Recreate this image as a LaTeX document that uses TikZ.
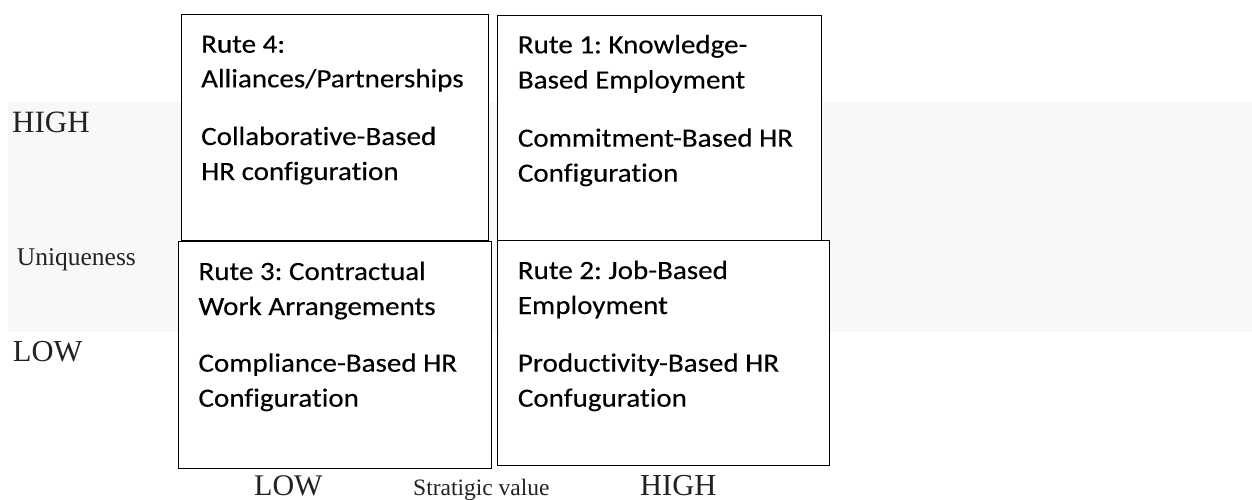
\documentclass[tikz,border=0pt]{standalone}
\usepackage{fontspec}
\newfontfamily\boxfont[FakeStretch=1.1,FakeBold=0.25,Ligatures={NoCommon}]{Carlito}
\newfontfamily\axisfont{Liberation Serif}
\definecolor{band}{HTML}{F7F8FA}
\definecolor{axisgray}{HTML}{222222}
\frenchspacing
\begin{document}
\begin{tikzpicture}[x=1pt,y=-1pt,
  quad/.style={draw=black,line width=0.9pt,fill=white,inner sep=0pt,anchor=north west},
  line/.style={anchor=base west,inner sep=0pt,font=\boxfont\fontsize{26.4}{32}\selectfont},
  axis/.style={anchor=base west,inner sep=0pt,text=axisgray}]
\useasboundingbox (0,0) rectangle (1252,500);

% light horizontal band behind the upper half
\fill[band] (8,102) rectangle (1252,332);

% upper row of quadrants
\node[quad,minimum width=307.3pt,minimum height=226pt] (q4) at (180.7,14) {};
\node[quad,minimum width=323.7pt,minimum height=224.5pt] (q1) at (497.3,15.5) {};
% lower row of quadrants (drawn over the upper row)
\node[quad,minimum width=312.4pt,minimum height=226.7pt] (q3) at (178.3,241) {};
\node[quad,minimum width=332.3pt,minimum height=225pt] (q2) at (496.7,240) {};

% Rute 4
\node[line] (q4a) at (201,52.7)  {Rute 4:};
\node[line] (q4b) at (201,87.3)  {Alliances/Partnerships};
\node[line] (q4c) at (201,145)   {Collaborative-Based};
\node[line] (q4d) at (201,180)   {HR configuration};
% Rute 1
\node[line] (q1a) at (517.7,53.3)  {Rute 1: Knowledge-};
\node[line] (q1b) at (517.7,88.5)  {Based Employment};
\node[line] (q1c) at (517.7,146.7) {Commitment-Based HR};
\node[line] (q1d) at (517.7,181.7) {Configuration};
% Rute 3
\node[line] (q3a) at (198.3,280)   {Rute 3: Contractual};
\node[line] (q3b) at (198.3,315)   {Work Arrangements};
\node[line] (q3c) at (198.3,371.7) {Compliance-Based HR};
\node[line] (q3d) at (198.3,406.7) {Configuration};
% Rute 2
\node[line] (q2a) at (517.7,279)   {Rute 2: Job-Based};
\node[line] (q2b) at (517.7,314)   {Employment};
\node[line] (q2c) at (517.7,371.7) {Productivity-Based HR};
\node[line] (q2d) at (517.7,406.7) {Confuguration};

% vertical axis labels
\node[axis,font=\axisfont\fontsize{31}{36}\selectfont] (yhigh) at (12,132.7) {HIGH};
\node[axis,font=\axisfont\fontsize{25.5}{30}\selectfont] (yname) at (16.7,265) {Uniqueness};
\node[axis,font=\axisfont\fontsize{30.5}{35}\selectfont] (ylow) at (12.7,361.7) {LOW};

% horizontal axis labels
\node[axis,font=\axisfont\fontsize{30}{35}\selectfont] (xlow) at (254,495) {LOW};
\node[axis,font=\axisfont\fontsize{23.5}{28}\selectfont] (xname) at (413,495) {Stratigic value};
\node[axis,font=\axisfont\fontsize{30.5}{35}\selectfont] (xhigh) at (640,495) {HIGH};
\end{tikzpicture}
\end{document}
